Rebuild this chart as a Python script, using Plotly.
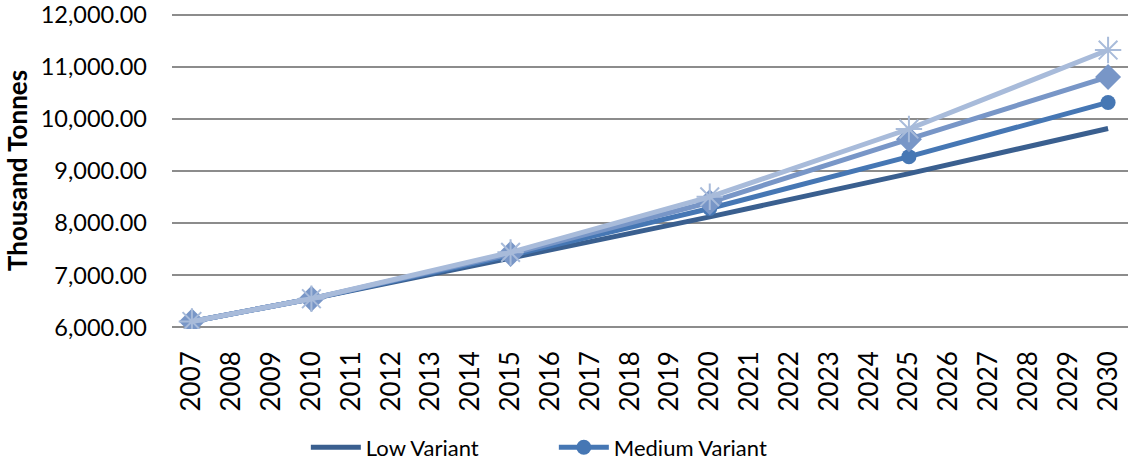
import plotly.graph_objects as go

years = list(range(2007, 2031))
point_years = [2007, 2010, 2015, 2020, 2025, 2030]
low_variant = [6115, 6550, 7330, 8120, 8950, 9815]
medium_variant = [6115, 6550, 7380, 8280, 9275, 10315]
high_variant = [6115, 6550, 7410, 8400, 9610, 10805]
constant_variant = [6115, 6550, 7440, 8505, 9805, 11320]
y_ticks = [6000, 7000, 8000, 9000, 10000, 11000, 12000]

FONT = "Lato"

fig = go.Figure()
fig.add_trace(go.Scatter(x=point_years, y=low_variant, name="Low Variant", mode="lines",
                         line=dict(color="#3A5F8F", width=5)))
fig.add_trace(go.Scatter(x=point_years, y=medium_variant, name="Medium Variant", mode="lines+markers",
                         line=dict(color="#4677B4", width=5),
                         marker=dict(symbol="circle", size=15, color="#4677B4")))
fig.add_trace(go.Scatter(x=point_years, y=high_variant, name="High Variant", mode="lines+markers",
                         showlegend=False,
                         line=dict(color="#7896C7", width=5),
                         marker=dict(symbol="diamond", size=20, color="#7896C7")))
fig.add_trace(go.Scatter(x=point_years, y=constant_variant, name="Constant Variant", mode="lines+markers",
                         showlegend=False,
                         line=dict(color="#A8BBDA", width=5),
                         marker=dict(symbol="asterisk-open", size=22, color="#A8BBDA",
                                     line=dict(color="#A8BBDA", width=2))))

fig.update_layout(
    width=1128, height=464,
    margin=dict(l=172, r=0, t=13, b=135, autoexpand=False),
    paper_bgcolor="white", plot_bgcolor="white",
    font=dict(family=FONT, color="black"),
    legend=dict(orientation="h", x=0.14, xanchor="left", y=-0.375, yanchor="middle",
                font=dict(family=FONT, size=22, color="black"),
                entrywidth=183, entrywidthmode="pixels", itemwidth=50,
                bgcolor="rgba(0,0,0,0)"),
    annotations=[dict(text="<b>Thousand Tonnes</b>", xref="paper", yref="paper",
                      x=-0.162, y=0.5, xanchor="center", yanchor="middle",
                      textangle=-90, showarrow=False,
                      font=dict(family=FONT, size=26, color="black"))],
)
fig.update_xaxes(
    range=[2006.5, 2030.5], tickmode="array", tickvals=years, ticktext=[str(y) for y in years],
    tickangle=-90, tickfont=dict(family=FONT, size=26, color="black"),
    showgrid=False, zeroline=False, showline=False, ticks="", ticklabelstandoff=16,
    automargin=False, ticklabeloverflow="allow",
)
fig.update_yaxes(
    range=[5970, 12030], tickmode="array", tickvals=y_ticks,
    ticktext=[f"{v:,.2f}" for v in y_ticks],
    tickfont=dict(family=FONT, size=23.5, color="black"),
    showgrid=True, gridcolor="#8C8C8C", gridwidth=2, zeroline=False, showline=False,
    ticks="", ticklabelstandoff=24, automargin=False, ticklabeloverflow="allow",
)

fig.write_html("out.html", config={"displayModeBar": False},
               post_script="document.body.style.margin='0';document.body.style.overflow='hidden';")
